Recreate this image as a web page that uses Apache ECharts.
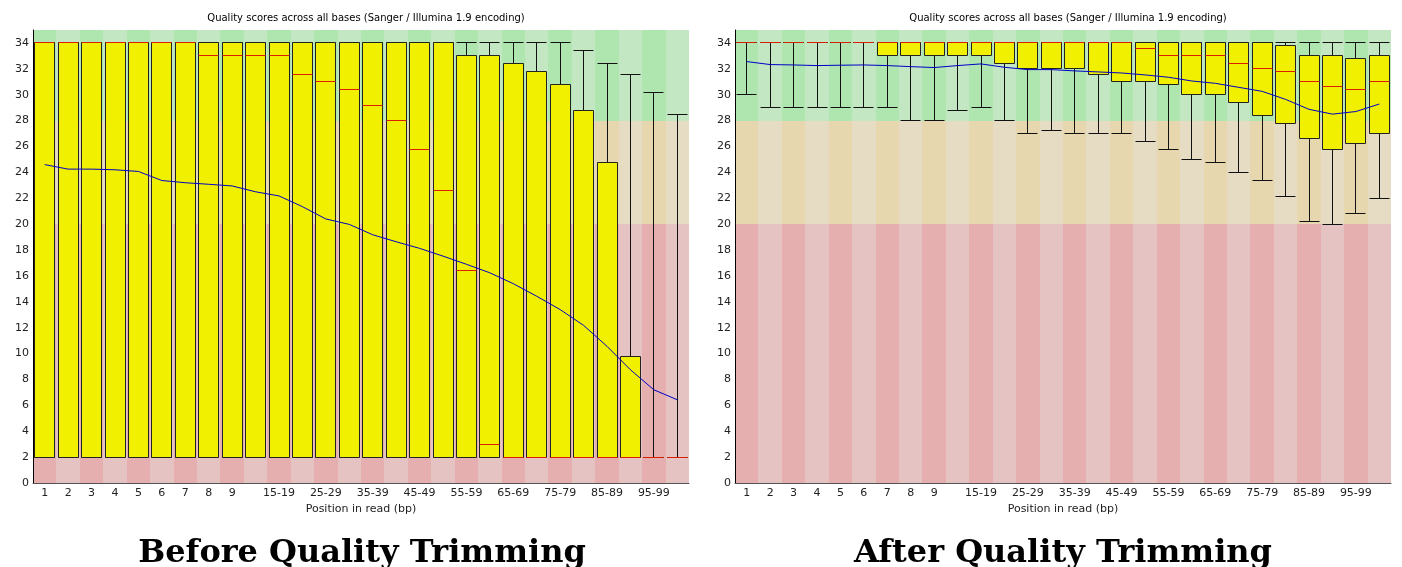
<!DOCTYPE html>
<html><head><meta charset="utf-8">
<script src="https://cdn.jsdelivr.net/npm/echarts@6/dist/echarts.min.js"></script>
<style>html,body{margin:0;padding:0;background:#fff}#c{width:1402px;height:567px}</style>
</head><body><div id="c"></div>
<script>
// ---------- data ----------
const categories = ['1','2','3','4','5','6','7','8','9','10-14','15-19','20-24','25-29','30-34','35-39','40-44','45-49','50-54','55-59','60-64','65-69','70-74','75-79','80-84','85-89','90-94','95-99','100-101'];
const shownLabelIdx = [0,1,2,3,4,5,6,7,8,10,12,14,16,18,20,22,24,26];
const yMin = 0, yMax = 35, yInterval = 2;
const qualityBands = [0, 20, 28, 35];

// Before trimming
const beforeLow    = [2,2,2,2,2,2,2,2,2,2,2,2,2,2,2,2,2,2,2,2,2,2,2,2,2,2,2,2];
const beforeQ1     = [2,2,2,2,2,2,2,2,2,2,2,2,2,2,2,2,2,2,2,2,2,2,2,2,2,2,2,2];
const beforeMedian = [34,34,34,34,34,34,34,33,33,33,33,31.6,31,30.4,29.2,28,25.8,22.6,16.4,3,2,2,2,2,2,2,2,2];
const beforeQ3     = [34,34,34,34,34,34,34,34,34,34,34,34,34,34,34,34,34,34,33,33,32.4,31.8,30.8,28.8,24.8,9.8,2,2];
const beforeHigh   = [34,34,34,34,34,34,34,34,34,34,34,34,34,34,34,34,34,34,34,34,34,34,34,33.4,32.4,31.6,30.2,28.5];
const beforeMean   = [24.6,24.25,24.25,24.2,24.07,23.37,23.2,23.08,22.95,22.5,22.18,21.35,20.4,19.98,19.18,18.64,18.13,17.53,16.9,16.24,15.4,14.43,13.4,12.18,10.56,8.75,7.2,6.43];

// After trimming
const afterLow    = [30,29,29,29,29,29,29,28,28,28.8,29,28,27,27.2,27,27,27,26.4,25.8,25,24.8,24,23.4,22.15,20.2,20,20.8,22];
const afterQ1     = [34,34,34,34,34,34,33,33,33,33,33,32.4,32,32,32,31.6,31,31,30.8,30,30,29.4,28.4,27.8,26.6,25.8,26.2,27];
const afterMedian = [34,34,34,34,34,34,34,34,34,34,34,34,34,34,34,34,34,33.6,33,33,33,32.4,32,31.8,31,30.6,30.4,31];
const afterQ3     = [34,34,34,34,34,34,34,34,34,34,34,34,34,34,34,34,34,34,34,34,34,34,34,33.8,33,33,32.8,33];
const afterHigh   = [34,34,34,34,34,34,34,34,34,34,34,34,34,34,34,34,34,34,34,34,34,34,34,34,34,34,34,34];
const afterMean   = [32.56,32.33,32.3,32.25,32.28,32.3,32.25,32.17,32.1,32.25,32.38,32.12,31.94,31.94,31.84,31.76,31.68,31.53,31.35,31.06,30.88,30.57,30.26,29.64,28.87,28.5,28.7,29.28];

const chartTitle = 'Quality scores across all bases (Sanger / Illumina 1.9 encoding)';
const xName = 'Position in read (bp)';
const captions = ['Before Quality Trimming', 'After Quality Trimming'];

// ---------- rendering ----------
const FONT = 'DejaVu Sans';
const bandDark  = ['#e6afaf', '#e6d7af', '#afe6af'];
const bandLight = ['#e6c3c3', '#e6dcc3', '#c3e6c3'];

function crisp(v) { return Math.round(v - 0.5) + 0.5; }

function bgRender(params, api) {
  const i = api.value(0);
  const c = api.coord([i, yMin]);
  const w = api.size([1, 0])[0];
  const x0 = Math.round(c[0] - w / 2), x1 = Math.round(c[0] + w / 2);
  const cols = (i % 2 === 0) ? bandDark : bandLight;
  const children = [];
  for (let b = 0; b < qualityBands.length - 1; b++) {
    const yb = Math.round(api.coord([i, qualityBands[b]])[1]);
    const yt = Math.round(api.coord([i, qualityBands[b + 1]])[1]);
    children.push({ type: 'rect', shape: { x: x0, y: yt, width: x1 - x0, height: yb - yt }, style: { fill: cols[b] } });
  }
  return { type: 'group', children };
}

function boxRender(params, api) {
  const i = api.value(0);
  const lo = api.coord([i, api.value(1)]);
  const q1 = api.coord([i, api.value(2)]);
  const md = api.coord([i, api.value(3)]);
  const q3 = api.coord([i, api.value(4)]);
  const hi = api.coord([i, api.value(5)]);
  const w = api.size([1, 0])[0];
  const bw = Math.round(w * 0.86);
  const cx = crisp(lo[0]);
  const left = crisp(lo[0] - bw / 2);
  const right = left + bw;
  const yLo = crisp(lo[1]), yQ1 = crisp(q1[1]), yMd = crisp(md[1]), yQ3 = crisp(q3[1]), yHi = crisp(hi[1]);
  const blk = { stroke: '#111', lineWidth: 1 };
  return {
    type: 'group',
    children: [
      { type: 'line', shape: { x1: cx, y1: yHi, x2: cx, y2: yQ3 }, style: blk },
      { type: 'line', shape: { x1: cx, y1: yQ1, x2: cx, y2: yLo }, style: blk },
      { type: 'line', shape: { x1: left, y1: yHi, x2: right, y2: yHi }, style: blk },
      { type: 'line', shape: { x1: left, y1: yLo, x2: right, y2: yLo }, style: blk },
      { type: 'rect', shape: { x: left, y: yQ3, width: bw, height: yQ1 - yQ3 }, style: { fill: '#f0f000', stroke: '#222', lineWidth: 1 } },
      { type: 'line', shape: { x1: left, y1: yMd, x2: right, y2: yMd }, style: { stroke: '#dc1e00', lineWidth: 1 } }
    ]
  };
}

const panels = [
  { left: 33, low: beforeLow, q1: beforeQ1, med: beforeMedian, q3: beforeQ3, high: beforeHigh, mean: beforeMean },
  { left: 735, low: afterLow, q1: afterQ1, med: afterMedian, q3: afterQ3, high: afterHigh, mean: afterMean }
];

const grid = [], xAxis = [], yAxis = [], series = [];
panels.forEach((p, k) => {
  grid.push({ left: p.left, top: 30, width: 656, height: 453, containLabel: false });
  xAxis.push({
    type: 'category', gridIndex: k, data: categories, boundaryGap: true, z: 10,
    name: xName, nameLocation: 'middle', nameGap: 21,
    nameTextStyle: { fontFamily: FONT, fontSize: 11, color: '#222' },
    axisLine: { show: true, lineStyle: { color: '#555', width: 1 } },
    axisTick: { show: false },
    axisLabel: { interval: (idx) => shownLabelIdx.indexOf(idx) >= 0, margin: 5, fontFamily: FONT, fontSize: 11, color: '#222' },
    splitLine: { show: false }
  });
  yAxis.push({
    type: 'value', gridIndex: k, min: yMin, max: yMax, interval: yInterval, z: 10,
    axisLine: { show: true, lineStyle: { color: '#000', width: 1 } },
    axisTick: { show: false },
    axisLabel: { showMaxLabel: false, margin: 4, fontFamily: FONT, fontSize: 11, color: '#222' },
    splitLine: { show: false }
  });
  series.push({
    type: 'custom', xAxisIndex: k, yAxisIndex: k, z: 1, silent: true,
    renderItem: bgRender, encode: { x: 0, y: 1 },
    data: categories.map((c, i) => [i, yMax])
  });
  series.push({
    type: 'custom', xAxisIndex: k, yAxisIndex: k, z: 2, silent: true,
    renderItem: boxRender, encode: { x: 0, y: [1, 2, 3, 4, 5] },
    data: categories.map((c, i) => [i, p.low[i], p.q1[i], p.med[i], p.q3[i], p.high[i]])
  });
  series.push({
    type: 'line', xAxisIndex: k, yAxisIndex: k, z: 3, silent: true,
    data: p.mean, symbol: 'none', smooth: false,
    lineStyle: { color: '#0000c8', width: 1 }
  });
});

const title = [
  { text: chartTitle, left: 366, top: 13, textAlign: 'center', padding: 0, textStyle: { fontFamily: FONT, fontSize: 10, fontWeight: 'normal', color: '#000' } },
  { text: chartTitle, left: 1068, top: 13, textAlign: 'center', padding: 0, textStyle: { fontFamily: FONT, fontSize: 10, fontWeight: 'normal', color: '#000' } },
  { text: captions[0], left: 362, top: 536, textAlign: 'center', padding: 0, textStyle: { fontFamily: 'DejaVu Serif', fontSize: 32, lineHeight: 36, fontWeight: 'bold', color: '#000' } },
  { text: captions[1], left: 1063, top: 536, textAlign: 'center', padding: 0, textStyle: { fontFamily: 'DejaVu Serif', fontSize: 32, lineHeight: 36, fontWeight: 'bold', color: '#000' } }
];

const chart = echarts.init(document.getElementById('c'), null, { renderer: 'canvas' });
chart.setOption({ animation: false, backgroundColor: '#fff', title, grid, xAxis, yAxis, series });
</script>
</body></html>
